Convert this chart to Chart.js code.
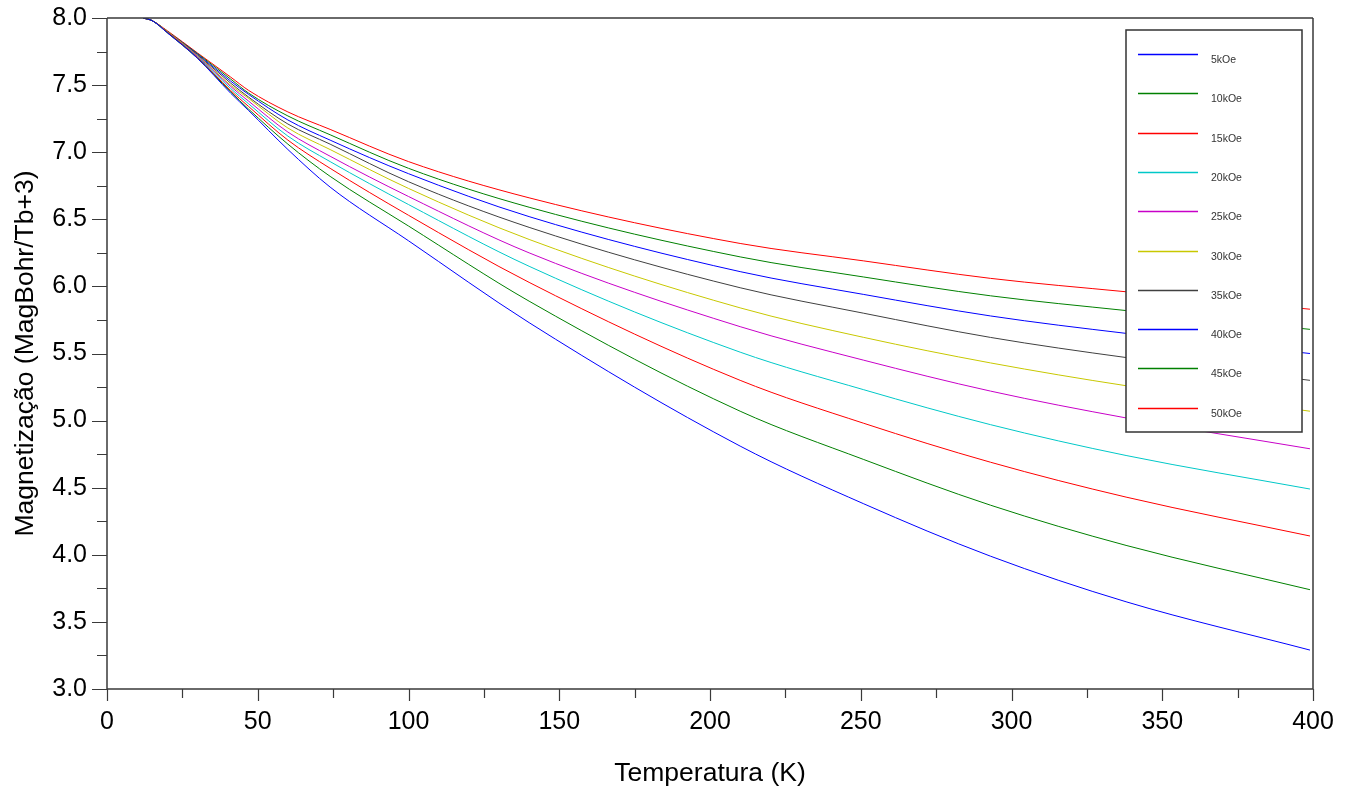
<!DOCTYPE html>
<html>
<head>
<meta charset="utf-8">
<script src="https://cdn.jsdelivr.net/npm/chart.js@4.4.1/dist/chart.umd.min.js"></script>
<style>
html,body{margin:0;padding:0;background:#fff;}
#wrap{width:1349px;height:793px;position:relative;}
</style>
</head>
<body>
<div id="wrap"><canvas id="c" width="1349" height="793"></canvas></div>
<script>
// Temperature samples (K)
const temps = [12, 15, 20, 30, 41, 47, 60, 74, 100, 140, 210, 251, 293, 338, 399];

// Series labels and colours
const seriesLabels = ['5kOe','10kOe','15kOe','20kOe','25kOe','30kOe','35kOe','40kOe','45kOe','50kOe'];
const seriesColors = ['#0000FF','#008000','#FF0000','#00C8C8','#C800C8','#C8C800','#404040','#0000FF','#008000','#FF0000'];

// Magnetization values (MagBohr/Tb+3)
const m5kOe  = [8.00, 7.98, 7.89, 7.70, 7.44, 7.31, 7.02, 6.74, 6.34, 5.73, 4.81, 4.38, 3.99, 3.65, 3.29];
const m10kOe = [8.00, 7.98, 7.89, 7.70, 7.45, 7.32, 7.06, 6.82, 6.45, 5.89, 5.07, 4.71, 4.37, 4.07, 3.74];
const m15kOe = [8.00, 7.98, 7.895, 7.705, 7.46, 7.34, 7.09, 6.88, 6.53, 6.03, 5.30, 4.98, 4.69, 4.43, 4.14];
const m20kOe = [8.00, 7.98, 7.895, 7.71, 7.475, 7.36, 7.12, 6.93, 6.61, 6.15, 5.51, 5.23, 4.97, 4.74, 4.49];
const m25kOe = [8.00, 7.98, 7.895, 7.715, 7.49, 7.38, 7.15, 6.97, 6.67, 6.25, 5.70, 5.45, 5.22, 5.02, 4.79];
const m30kOe = [8.00, 7.98, 7.90, 7.72, 7.50, 7.40, 7.18, 7.02, 6.73, 6.35, 5.84, 5.62, 5.43, 5.26, 5.07];
const m35kOe = [8.00, 7.98, 7.90, 7.725, 7.515, 7.41, 7.21, 7.06, 6.78, 6.44, 5.99, 5.80, 5.62, 5.47, 5.30];
const m40kOe = [8.00, 7.98, 7.90, 7.73, 7.53, 7.43, 7.24, 7.09, 6.84, 6.52, 6.11, 5.94, 5.78, 5.65, 5.50];
const m45kOe = [8.00, 7.98, 7.90, 7.735, 7.545, 7.44, 7.27, 7.13, 6.88, 6.59, 6.22, 6.07, 5.93, 5.82, 5.68];
const m50kOe = [8.00, 7.98, 7.905, 7.74, 7.56, 7.46, 7.30, 7.17, 6.93, 6.66, 6.32, 6.19, 6.06, 5.96, 5.83];
const seriesValues = [m5kOe, m10kOe, m15kOe, m20kOe, m25kOe, m30kOe, m35kOe, m40kOe, m45kOe, m50kOe];

// Axis settings
const xMin = 0, xMax = 400, xMajor = 50, xMinor = 25;
const yMin = 3, yMax = 8, yMajor = 0.5, yMinor = 0.25;
const xTitle = 'Temperatura (K)';
const yTitle = 'Magnetização (MagBohr/Tb+3)';

const AXIS_COLOR = '#3a3a3a';
const FONT = '"Liberation Sans", Arial, sans-serif';

const datasets = seriesLabels.map((lab, i) => ({
  label: lab,
  data: temps.map((t, j) => ({x: t, y: seriesValues[i][j]})),
  borderColor: seriesColors[i],
  backgroundColor: seriesColors[i],
  borderWidth: 1,
  pointRadius: 0,
  cubicInterpolationMode: 'monotone',
  fill: false
}));

const framePlugin = {
  id: 'frameTicks',
  afterDraw(chart) {
    const ctx = chart.ctx;
    const ca = chart.chartArea;
    const xs = chart.scales.x, ys = chart.scales.y;
    ctx.save();
    ctx.strokeStyle = AXIS_COLOR;
    ctx.lineWidth = 1.5;
    // frame
    ctx.beginPath();
    ctx.moveTo(ca.left, ca.top); ctx.lineTo(ca.right, ca.top);
    ctx.moveTo(ca.right, ca.top); ctx.lineTo(ca.right, ca.bottom);
    ctx.moveTo(ca.left, ca.top); ctx.lineTo(ca.left, ca.bottom);
    ctx.moveTo(ca.left, ca.bottom); ctx.lineTo(ca.right, ca.bottom);
    ctx.stroke();
    ctx.lineWidth = 1.2;
    // x ticks
    ctx.beginPath();
    for (let v = xMin; v <= xMax + 1e-9; v += xMinor) {
      const px = Math.round(xs.getPixelForValue(v)) + 0.5;
      const major = Math.abs(v / xMajor - Math.round(v / xMajor)) < 1e-6;
      ctx.moveTo(px, ca.bottom);
      ctx.lineTo(px, ca.bottom + (major ? 12 : 9));
    }
    // y ticks
    for (let v = yMin; v <= yMax + 1e-9; v += yMinor) {
      const py = Math.round(ys.getPixelForValue(v)) + 0.5;
      const major = Math.abs(v / yMajor - Math.round(v / yMajor)) < 1e-6;
      ctx.moveTo(ca.left, py);
      ctx.lineTo(ca.left - (major ? 15 : 10), py);
    }
    ctx.stroke();

    // legend box
    const bx = 1126, by = 30, bw = 176, bh = 402;
    ctx.fillStyle = '#fff';
    ctx.fillRect(bx, by, bw, bh);
    ctx.strokeStyle = '#333';
    ctx.lineWidth = 1.5;
    ctx.strokeRect(bx, by, bw, bh);
    ctx.font = '10.5px ' + FONT;
    ctx.textBaseline = 'middle';
    ctx.textAlign = 'left';
    chart.data.datasets.forEach((ds, i) => {
      const ly = Math.round(54 + i * 39.3) + 0.5;
      ctx.strokeStyle = ds.borderColor;
      ctx.lineWidth = 1.3;
      ctx.beginPath();
      ctx.moveTo(1138, ly);
      ctx.lineTo(1198, ly);
      ctx.stroke();
      ctx.fillStyle = '#333';
      ctx.fillText(ds.label, 1211, ly + 6);
    });
    ctx.restore();
  }
};

new Chart(document.getElementById('c'), {
  type: 'line',
  data: { datasets },
  options: {
    responsive: false,
    animation: false,
    devicePixelRatio: 1,
    layout: { padding: { left: 0, top: 18, right: 36, bottom: 0 } },
    plugins: { legend: { display: false }, tooltip: { enabled: false } },
    scales: {
      x: {
        type: 'linear', min: xMin, max: xMax,
        grid: { display: true, drawOnChartArea: false, drawTicks: true, tickLength: 12, color: 'rgba(0,0,0,0)' },
        border: { display: false },
        ticks: { stepSize: xMajor, padding: 6, color: '#000', font: { family: FONT, size: 25 }, maxRotation: 0 },
        title: { display: true, text: xTitle, color: '#000', font: { family: FONT, size: 26.5 }, padding: { top: 4, bottom: 3 } },
        afterFit(s) { s.height = 104; }
      },
      y: {
        type: 'linear', min: yMin, max: yMax,
        grid: { display: true, drawOnChartArea: false, drawTicks: true, tickLength: 17, color: 'rgba(0,0,0,0)' },
        border: { display: false },
        ticks: { stepSize: yMajor, padding: 3, color: '#000', font: { family: FONT, size: 25 },
                 callback: v => v.toFixed(1) },
        title: { display: true, text: yTitle, color: '#000', font: { family: FONT, size: 26.5 }, padding: { top: 10, bottom: 4 } },
        afterFit(s) { s.width = 107; }
      }
    }
  },
  plugins: [framePlugin]
});
</script>
</body>
</html>
